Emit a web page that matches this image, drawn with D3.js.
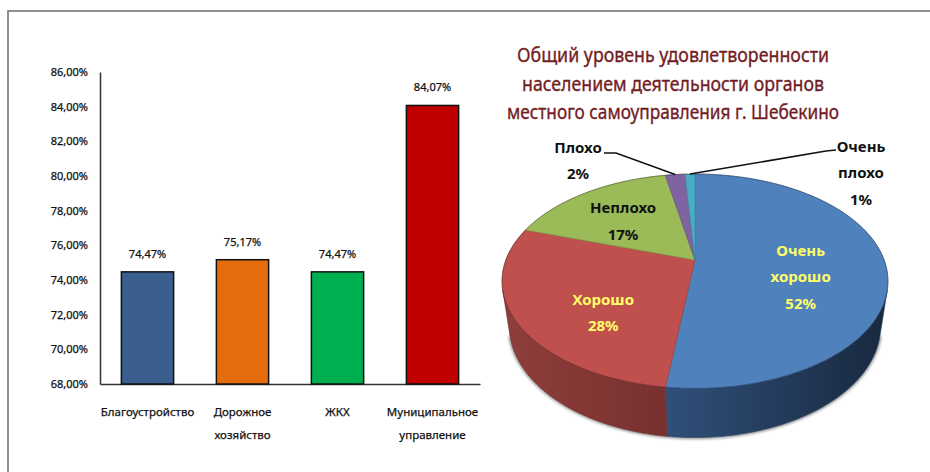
<!DOCTYPE html>
<html>
<head>
<meta charset="utf-8">
<script src="https://cdn.jsdelivr.net/npm/d3@7"></script>
<style>
  html, body { margin: 0; padding: 0; background: #fff; }
  svg { display: block; }
  text { font-family: "Noto Sans", "Open Sans", sans-serif; }
</style>
</head>
<body>
<svg id="chart" width="930" height="472"></svg>
<script>
// ---------------- DATA ----------------
const barCategories = ["Благоустройство", "Дорожное хозяйство", "ЖКХ", "Муниципальное управление"];
const barValues = [74.47, 75.17, 74.47, 84.07];
const yTickValues = [68, 70, 72, 74, 76, 78, 80, 82, 84, 86];

const pieTitle = ["Общий уровень удовлетворенности", "населением деятельности органов", "местного самоуправления г. Шебекино"];
const pieCategories = ["Очень хорошо", "Хорошо", "Неплохо", "Плохо", "Очень плохо"];
const pieValues = [52, 28, 17, 2, 1];

// ---------------- STYLES / LAYOUT ----------------
const barColors = ["#3A5F8F", "#E46C0A", "#00B050", "#C00000"];
const pieTopColors = ["#4F81BD", "#C0504D", "#9BBB59", "#8064A2", "#4BACC6"];
const pieSideStops = [
  [["0", "#3b5f8e"], ["0.42", "#30507a"], ["1", "#18283e"]],
  [["0", "#8f3e3b"], ["0.45", "#76302e"], ["1", "#5a2220"]],
  [["0", "#6f8a3e"], ["1", "#4f6628"]],
  [["0", "#5b4678"], ["1", "#3f2f55"]],
  [["0", "#3a8aa0"], ["1", "#286577"]]
];
// label placement for each slice: angle (deg), radius fraction, inside/outside
const pieLabelLayout = [
  { a: 106.9, r: 0.565, fill: "#FFFF66", lines: ["Очень", "хорошо", "52%"] },
  { a: 223.3, r: 0.642, fill: "#FFFF66", lines: ["Хорошо", "28%"] },
  { a: 314.5, r: 0.576, fill: "#111111", lines: ["Неплохо", "17%"] },
  { x: 578, y: 161, fill: "#111111", lines: ["Плохо", "2%"], leader: [[604, 153], [616, 153]] },
  { x: 861, y: 173, fill: "#111111", lines: ["Очень", "плохо", "1%"], leader: [[836, 150], [826, 151]] }
];

const svg = d3.select("#chart");

// frame
svg.append("path")
  .attr("d", "M8,472V11H930")
  .attr("fill", "none")
  .attr("stroke", "#6b6b6b")
  .attr("stroke-width", 1.5);

// ---------------- BAR CHART ----------------
const x = d3.scaleBand().domain(barCategories).range([100, 480]).paddingInner(0.45).paddingOuter(0.225);
const y = d3.scaleLinear().domain([68, 86]).range([384, 72]);
const fmt = v => v.toFixed(2).replace(".", ",") + "%";

const yAxis = svg.append("g")
  .attr("transform", "translate(100,0)")
  .call(d3.axisLeft(y).tickValues(yTickValues).tickSize(0).tickPadding(12).tickFormat(fmt));
yAxis.select(".domain").attr("stroke", "#333").attr("stroke-width", 1.5);
yAxis.selectAll("text").attr("font-size", "11px").attr("fill", "#111")
  .attr("stroke", "#111").attr("stroke-width", 0.25)
  .attr("font-family", "'Noto Sans', sans-serif");

const xAxis = svg.append("g")
  .attr("transform", "translate(0,384)")
  .call(d3.axisBottom(x).tickSize(0).tickSizeOuter(0).tickFormat(""));
xAxis.select(".domain").attr("stroke", "#333").attr("stroke-width", 1.5);
xAxis.selectAll(".tick text").remove();
xAxis.selectAll(".tick").each(function (d) {
  const words = d.split(" ");
  const t = d3.select(this).append("text")
    .attr("text-anchor", "middle")
    .attr("font-size", "11.5px")
    .attr("fill", "#111")
    .attr("stroke", "#111").attr("stroke-width", 0.25)
    .attr("font-family", "'Noto Sans', sans-serif");
  words.forEach((w, i) => {
    t.append("tspan").attr("x", 0).attr("y", 32 + i * 23).text(w);
  });
});

svg.append("g").selectAll("rect")
  .data(barValues)
  .join("rect")
  .attr("x", (d, i) => x(barCategories[i]))
  .attr("y", d => y(d))
  .attr("width", x.bandwidth())
  .attr("height", d => y(68) - y(d))
  .attr("fill", (d, i) => barColors[i])
  .attr("stroke", "#111")
  .attr("stroke-width", 1.5);

svg.append("g").selectAll("text")
  .data(barValues)
  .join("text")
  .attr("x", (d, i) => x(barCategories[i]) + x.bandwidth() / 2)
  .attr("y", d => y(d) - 14)
  .attr("text-anchor", "middle")
  .attr("font-size", "11px")
  .attr("fill", "#111")
  .attr("stroke", "#111").attr("stroke-width", 0.25)
  .text(d => fmt(d));

// ---------------- PIE TITLE ----------------
const titleLengths = [312, 302, 332];
const titleG = svg.append("g");
pieTitle.forEach((line, i) => {
  titleG.append("text")
    .attr("x", 673)
    .attr("y", 62 + i * 28.5)
    .attr("text-anchor", "middle")
    .attr("font-size", "20px")
    .attr("fill", "#731C1F")
    .attr("stroke", "#731C1F")
    .attr("stroke-width", 0.35)
    .attr("textLength", titleLengths[i])
    .attr("lengthAdjust", "spacingAndGlyphs")
    .text(line);
});

// ---------------- 3D PIE ----------------
const cx = 695, cy = 260, f = 801;
const th = 33 * Math.PI / 180, sn = Math.sin(th), cs = Math.cos(th);
const dist = 4.235, depthH = 0.29;
function proj(a, rho, Y) {
  const X = rho * Math.sin(a), Z = -rho * Math.cos(a);
  const up = Y * cs - Z * sn;
  const dep = dist - (Y * sn + Z * cs);
  return [cx + f * X / dep, cy - f * up / dep];
}
const arcs = d3.pie().sort(null).value(d => d)(pieValues);
const line = d3.line();
function samples(a0, a1) {
  const n = Math.max(2, Math.ceil((a1 - a0) / (Math.PI / 360)));
  return d3.range(n + 1).map(i => a0 + (a1 - a0) * i / n);
}

const defs = svg.append("defs");
pieSideStops.forEach((stops, i) => {
  const g = defs.append("linearGradient")
    .attr("id", "side" + i)
    .attr("gradientUnits", "userSpaceOnUse")
    .attr("x1", cx - 193).attr("x2", cx + 193).attr("y1", 0).attr("y2", 0);
  stops.forEach(s => g.append("stop").attr("offset", s[0]).attr("stop-color", s[1]));
});
const blur = defs.append("filter").attr("id", "blur").attr("x", "-10%").attr("y", "-10%").attr("width", "120%").attr("height", "130%");
blur.append("feGaussianBlur").attr("stdDeviation", 1.6);

const vis0 = Math.acos(-1 / (dist * cs)), vis1 = 2 * Math.PI - vis0;

// soft shadow along bottom edge
svg.append("path")
  .attr("d", line(samples(vis0, vis1).map(a => proj(a, 1, -depthH))))
  .attr("fill", "none")
  .attr("stroke", "#000")
  .attr("stroke-opacity", 0.55)
  .attr("stroke-width", 2.5)
  .attr("filter", "url(#blur)");

// sides
const sideG = svg.append("g");
arcs.forEach((p, i) => {
  const lo = Math.max(p.startAngle, vis0), hi = Math.min(p.endAngle, vis1);
  if (hi <= lo) return;
  const ang = samples(lo, hi);
  const pts = ang.map(a => proj(a, 1, 0)).concat(ang.slice().reverse().map(a => proj(a, 1, -depthH)));
  sideG.append("path")
    .attr("d", line(pts) + "Z")
    .attr("fill", `url(#side${i})`)
    .attr("stroke", d3.color(pieTopColors[i]).darker(1.6))
    .attr("stroke-width", 0.6);
});

// top faces
const topG = svg.append("g");
arcs.forEach((p, i) => {
  const pts = [proj(0, 0, 0)].concat(samples(p.startAngle, p.endAngle).map(a => proj(a, 1, 0)));
  topG.append("path")
    .attr("d", line(pts) + "Z")
    .attr("fill", pieTopColors[i])
    .attr("stroke", d3.color(pieTopColors[i]).darker(0.6))
    .attr("stroke-width", 0.7)
    .attr("stroke-linejoin", "round");
});
// rim edge
svg.append("path")
  .attr("d", line(samples(0, 2 * Math.PI).map(a => proj(a, 1, 0))) + "Z")
  .attr("fill", "none")
  .attr("stroke", "#000")
  .attr("stroke-opacity", 0.25)
  .attr("stroke-width", 1);

// labels + leaders
const labG = svg.append("g");
arcs.forEach((p, i) => {
  const L = pieLabelLayout[i];
  let px, py;
  if (L.a !== undefined) {
    [px, py] = proj(L.a * Math.PI / 180, L.r, 0);
  } else {
    px = L.x; py = L.y;
    const mid = (p.startAngle + p.endAngle) / 2;
    const rim = proj(mid, 1, 0);
    const pts = L.leader.concat([rim]);
    labG.append("path")
      .attr("d", line(pts))
      .attr("fill", "none")
      .attr("stroke", "#111")
      .attr("stroke-width", 1.6);
  }
  const n = L.lines.length, lh = 26.5;
  const t = labG.append("text")
    .attr("text-anchor", "middle")
    .attr("font-size", "15px")
    .attr("font-weight", "bold")
    .attr("fill", L.fill);
  L.lines.forEach((w, k) => {
    t.append("tspan").attr("x", px).attr("y", py + (k - (n - 1) / 2) * lh + 5).text(w);
  });
});
</script>
</body>
</html>
